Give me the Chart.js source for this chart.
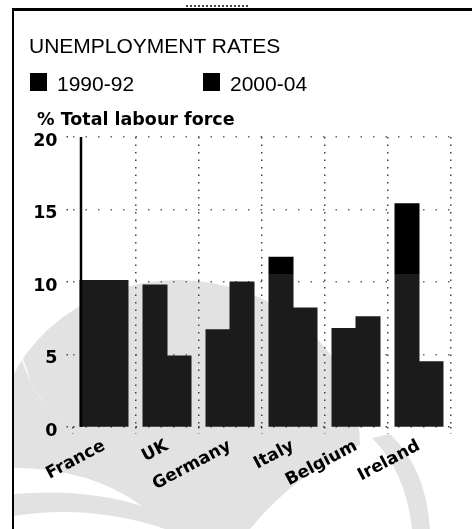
<!DOCTYPE html>
<html>
<head>
<meta charset="utf-8">
<title>Unemployment rates</title>
<script src="https://cdn.jsdelivr.net/npm/chart.js@4.4.1/dist/chart.umd.min.js"></script>
<style>
    body { margin: 0; background: #fff; }
    #wrap { position: relative; width: 472px; height: 529px; overflow: hidden; }
    #myChart { position: absolute; left: 0; top: 0; }
    .frame { position: absolute; left: 12px; top: 8px; right: -10px; bottom: -10px; border-left: 2px solid #000; border-top: 3px solid #000; }
    .scrap { position: absolute; left: 186px; top: 5px; width: 62px; border-top: 2px dotted #444; }
    #title { position: absolute; left: 29px; top: 35px; font: 21px/21px "Liberation Sans", Arial, sans-serif; color: #000; white-space: nowrap; }
    .legendItem { position: absolute; top: 73px; height: 18px; font: 21px/21px "Liberation Sans", Arial, sans-serif; white-space: nowrap; }
    .legendItem span.box { position: absolute; left: 0; top: 0; width: 17px; height: 18px; background: #000; }
    .legendItem span.txt { position: absolute; left: 27px; top: 0; }
    #yTitle { position: absolute; left: 37px; top: 110px; font: bold 17.5px/18px "DejaVu Sans", sans-serif; white-space: nowrap; }
</style>
</head>
<body>
<div id="wrap">
    <canvas id="myChart" width="472" height="529"></canvas>
    <div class="frame"></div>
    <div class="scrap"></div>
    <div id="title">UNEMPLOYMENT RATES</div>
    <div id="legend"></div>
    <div id="yTitle">% Total labour force</div>
</div>
<script>
const categories = ['France', 'UK', 'Germany', 'Italy', 'Belgium', 'Ireland']
const rates1990 = [10.1, 9.8, 6.7, 11.7, 6.8, 15.4]
const rates2000 = [10.1, 4.9, 10.0, 8.2, 7.6, 4.5]
const seriesNames = ['1990-92', '2000-04']
const yTicks = [0, 5, 10, 15, 20]

// legend above the plot, one box per series
const legendLeft = [30, 203]
seriesNames.forEach(function(name, i) {
    const item = document.createElement('div')
    item.className = 'legendItem'
    item.style.left = legendLeft[i] + 'px'
    item.innerHTML = '<span class="box"></span><span class="txt">' + name + '</span>'
    document.getElementById('legend').appendChild(item)
})

// bars print pure black above the faded band, slightly lifted inside it
function barFill(context) {
    const chart = context.chart
    const h = chart.height
    const g = chart.ctx.createLinearGradient(0, 0, 0, h)
    g.addColorStop(0, '#000')
    g.addColorStop(274 / h, '#000')
    g.addColorStop(274 / h, '#1b1b1b')
    g.addColorStop(1, '#1b1b1b')
    return g
}

function fillPath(c, color, pts) {
    c.fillStyle = color
    c.beginPath()
    c.moveTo(pts[0], pts[1])
    for (let i = 2; i < pts.length; i += 4) {
        c.quadraticCurveTo(pts[i], pts[i + 1], pts[i + 2], pts[i + 3])
    }
    c.closePath()
    c.fill()
}

// light grey emblem printed behind the chart
const watermark = {
    id: 'watermark',
    beforeDraw(chart) {
        const c = chart.ctx
        c.save()
        c.beginPath()
        c.rect(14, 0, 472, 529)
        c.clip()
        c.fillStyle = '#e2e2e2'
        c.beginPath()
        c.ellipse(178, 445, 182, 165, 0, 0, Math.PI * 2)
        c.fill()

        // white sweeps cut through the emblem
        fillPath(c, '#fff', [14, 468, 90, 468, 142, 506, 85, 488, 14, 494])
        fillPath(c, '#fff', [14, 516, 90, 504, 165, 529, 90, 529, 14, 529])
        fillPath(c, '#fff', [250, 529, 300, 468, 372, 440, 420, 440, 472, 440, 472, 485, 472, 529, 360, 529, 250, 529])
        fillPath(c, '#fff', [18, 345, 30, 400, 68, 424, 40, 405, 30, 380, 24, 360, 18, 345])

        // grey bands on the right of the emblem
        fillPath(c, '#e2e2e2', [236, 490, 290, 445, 346, 420, 350, 428, 354, 434, 300, 458, 246, 502])
        fillPath(c, '#e2e2e2', [372, 438, 406, 472, 412, 529, 421, 529, 430, 529, 426, 468, 390, 434])
        c.restore()
    }
}

// solid value axis along the left edge of the first bar
const valueAxis = {
    id: 'valueAxis',
    afterDatasetsDraw(chart) {
        const bar = chart.getDatasetMeta(0).data[0]
        const y = chart.scales.y
        const x = bar.x - bar.width / 2 + 1
        const c = chart.ctx
        c.save()
        c.strokeStyle = '#000'
        c.lineWidth = 2.5
        c.beginPath()
        c.moveTo(x, y.getPixelForValue(20))
        c.lineTo(x, y.getPixelForValue(0))
        c.stroke()
        c.restore()
    }
}

const data = {
    labels: categories,
    datasets: [{
        label: seriesNames[0],
        data: rates1990,
        backgroundColor: barFill,
        borderWidth: 0,
        inflateAmount: 0.5
    }, {
        label: seriesNames[1],
        data: rates2000,
        backgroundColor: barFill,
        borderWidth: 0,
        inflateAmount: 0.5
    }]
}

const config = {
    type: 'bar',
    data: data,
    options: {
        responsive: false,
        animation: false,
        devicePixelRatio: 1,
        categoryPercentage: 48 / 63,
        barPercentage: 1,
        layout: { padding: { top: 137, right: 21.5, left: 0, bottom: 0 } },
        plugins: {
            legend: { display: false },
            tooltip: { enabled: false }
        },
        scales: {
            x: {
                afterFit: function(scale) { scale.height = 102 },
                grid: {
                    offset: true,
                    color: ctx => ctx.index === 0 ? 'rgba(0,0,0,0)' : '#444',
                    lineWidth: 1.5,
                    tickLength: 7,
                    tickColor: '#444',
                    tickBorderDash: [1.5, 5]
                },
                border: { display: false, dash: [1.5, 6] },
                ticks: {
                    color: '#000',
                    font: { family: 'DejaVu Sans', weight: 'bold', size: 17 },
                    minRotation: 28,
                    maxRotation: 28,
                    autoSkip: false,
                    padding: 2
                }
            },
            y: {
                min: 0,
                max: 20,
                afterFit: function(scale) { scale.width = 72.5 },
                afterBuildTicks: function(scale) { scale.ticks = yTicks.map(v => ({ value: v })) },
                grid: {
                    color: ctx => ctx.index === 0 ? '#333' : '#666',
                    lineWidth: 1.5,
                    tickLength: 6,
                    tickColor: '#444',
                    tickBorderDash: [1.5, 5]
                },
                border: { display: false, dash: [1.5, 11] },
                ticks: {
                    color: '#000',
                    font: { family: 'DejaVu Sans', weight: 'bold', size: 17.5 },
                    padding: 9,
                    labelOffset: 4
                }
            }
        }
    },
    plugins: [watermark, valueAxis]
}

myChart = new Chart(document.getElementById('myChart'), config)
</script>
</body>
</html>
